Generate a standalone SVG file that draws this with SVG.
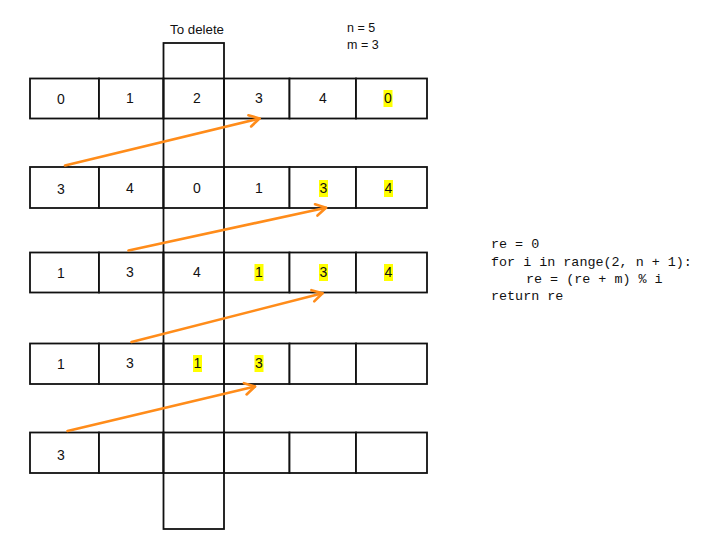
<svg xmlns="http://www.w3.org/2000/svg" width="712" height="551" viewBox="0 0 712 551">
<style>
.cell{fill:#fff;stroke:#111;stroke-width:1.8}
.col{fill:none;stroke:#111;stroke-width:1.8}
.t{font-family:"Liberation Sans",Arial,sans-serif;font-size:14px;fill:#111;text-anchor:middle}
.lbl{font-family:"Liberation Sans",Arial,sans-serif;font-size:12.5px;fill:#111}
.code{font-family:"Liberation Mono","DejaVu Sans Mono",monospace;font-size:13.4px;fill:#111}
.hl{fill:#ffff00}
.arr{fill:none;stroke:#ff8c1a;stroke-width:2.6;stroke-linecap:round;marker-end:url(#ah)}
</style>
<defs>
<marker id="ah" markerUnits="userSpaceOnUse" markerWidth="24" markerHeight="24" viewBox="-12 -12 24 24" refX="0" refY="0" orient="auto">
<path d="M-10,-5.8 L0,0 L-10,5.8" fill="none" stroke="#ff8c1a" stroke-width="2.6" stroke-linecap="round" stroke-linejoin="round"/>
</marker>
</defs>
<rect width="712" height="551" fill="#fff"/>

<g id="row1">
<rect class="cell" x="30" y="78.5" width="69" height="40"/>
<rect class="cell" x="99" y="78.5" width="64.5" height="40"/>
<rect class="cell" x="163.5" y="78.5" width="60.5" height="40"/>
<rect class="cell" x="224" y="78.5" width="65.5" height="40"/>
<rect class="cell" x="289.5" y="78.5" width="66.5" height="40"/>
<rect class="cell" x="356" y="78.5" width="71" height="40"/>
<rect class="hl" x="383.5" y="90" width="9" height="17"/>
<text class="t" x="61" y="104">0</text>
<text class="t" x="130" y="103">1</text>
<text class="t" x="197" y="103">2</text>
<text class="t" x="259" y="103">3</text>
<text class="t" x="323" y="103">4</text>
<text class="t" x="388" y="103">0</text>
</g>

<g id="row2">
<rect class="cell" x="30" y="167" width="69" height="41"/>
<rect class="cell" x="99" y="167" width="64.5" height="41"/>
<rect class="cell" x="163.5" y="167" width="60.5" height="41"/>
<rect class="cell" x="224" y="167" width="65.5" height="41"/>
<rect class="cell" x="289.5" y="167" width="66.5" height="41"/>
<rect class="cell" x="356" y="167" width="71" height="41"/>
<rect class="hl" x="319" y="180" width="9" height="17"/>
<rect class="hl" x="384" y="180" width="9" height="17"/>
<text class="t" x="61" y="194">3</text>
<text class="t" x="130" y="193">4</text>
<text class="t" x="197" y="193">0</text>
<text class="t" x="259" y="193">1</text>
<text class="t" x="323.5" y="193">3</text>
<text class="t" x="388.5" y="193">4</text>
</g>

<g id="row3">
<rect class="cell" x="30" y="252.5" width="69" height="40"/>
<rect class="cell" x="99" y="252.5" width="64.5" height="40"/>
<rect class="cell" x="163.5" y="252.5" width="60.5" height="40"/>
<rect class="cell" x="224" y="252.5" width="65.5" height="40"/>
<rect class="cell" x="289.5" y="252.5" width="66.5" height="40"/>
<rect class="cell" x="356" y="252.5" width="71" height="40"/>
<rect class="hl" x="254.5" y="264" width="9" height="17"/>
<rect class="hl" x="319" y="264" width="9" height="17"/>
<rect class="hl" x="384" y="264" width="9" height="17"/>
<text class="t" x="61" y="278">1</text>
<text class="t" x="130" y="277">3</text>
<text class="t" x="197" y="277">4</text>
<text class="t" x="259" y="277">1</text>
<text class="t" x="323.5" y="277">3</text>
<text class="t" x="388.5" y="277">4</text>
</g>

<g id="row4">
<rect class="cell" x="30" y="343.5" width="69" height="40.5"/>
<rect class="cell" x="99" y="343.5" width="64.5" height="40.5"/>
<rect class="cell" x="163.5" y="343.5" width="60.5" height="40.5"/>
<rect class="cell" x="224" y="343.5" width="65.5" height="40.5"/>
<rect class="cell" x="289.5" y="343.5" width="66.5" height="40.5"/>
<rect class="cell" x="356" y="343.5" width="71" height="40.5"/>
<rect class="hl" x="193" y="355" width="9" height="17"/>
<rect class="hl" x="254.5" y="355" width="9" height="17"/>
<text class="t" x="61" y="369">1</text>
<text class="t" x="130" y="368">3</text>
<text class="t" x="197.5" y="368">1</text>
<text class="t" x="259" y="368">3</text>
</g>

<g id="row5">
<rect class="cell" x="30" y="432.5" width="69" height="40.5"/>
<rect class="cell" x="99" y="432.5" width="64.5" height="40.5"/>
<rect class="cell" x="163.5" y="432.5" width="60.5" height="40.5"/>
<rect class="cell" x="224" y="432.5" width="65.5" height="40.5"/>
<rect class="cell" x="289.5" y="432.5" width="66.5" height="40.5"/>
<rect class="cell" x="356" y="432.5" width="71" height="40.5"/>
<text class="t" x="61" y="460">3</text>
</g>

<g id="delete-column">
<rect class="col" x="163.5" y="43" width="60.5" height="486"/>
<text class="lbl" x="197" y="34" text-anchor="middle" style="font-size:13.3px">To delete</text>
</g>

<g id="params">
<text class="lbl" x="347" y="32">n = 5</text>
<text class="lbl" x="347" y="49">m = 3</text>
</g>

<g id="code">
<text class="code" x="491" y="248">re = 0</text>
<text class="code" x="491" y="265.5">for i in range(2, n + 1):</text>
<text class="code" x="526" y="282.5">re = (re + m) % i</text>
<text class="code" x="491" y="300">return re</text>
</g>

<g id="connectors">
<line class="arr" x1="65" y1="165.5" x2="259.5" y2="118.5"/>
<line class="arr" x1="128.5" y1="250.5" x2="326" y2="207.8"/>
<line class="arr" x1="131.5" y1="342" x2="322.5" y2="293.3"/>
<line class="arr" x1="67.5" y1="431" x2="255" y2="386.5"/>
</g>
</svg>
